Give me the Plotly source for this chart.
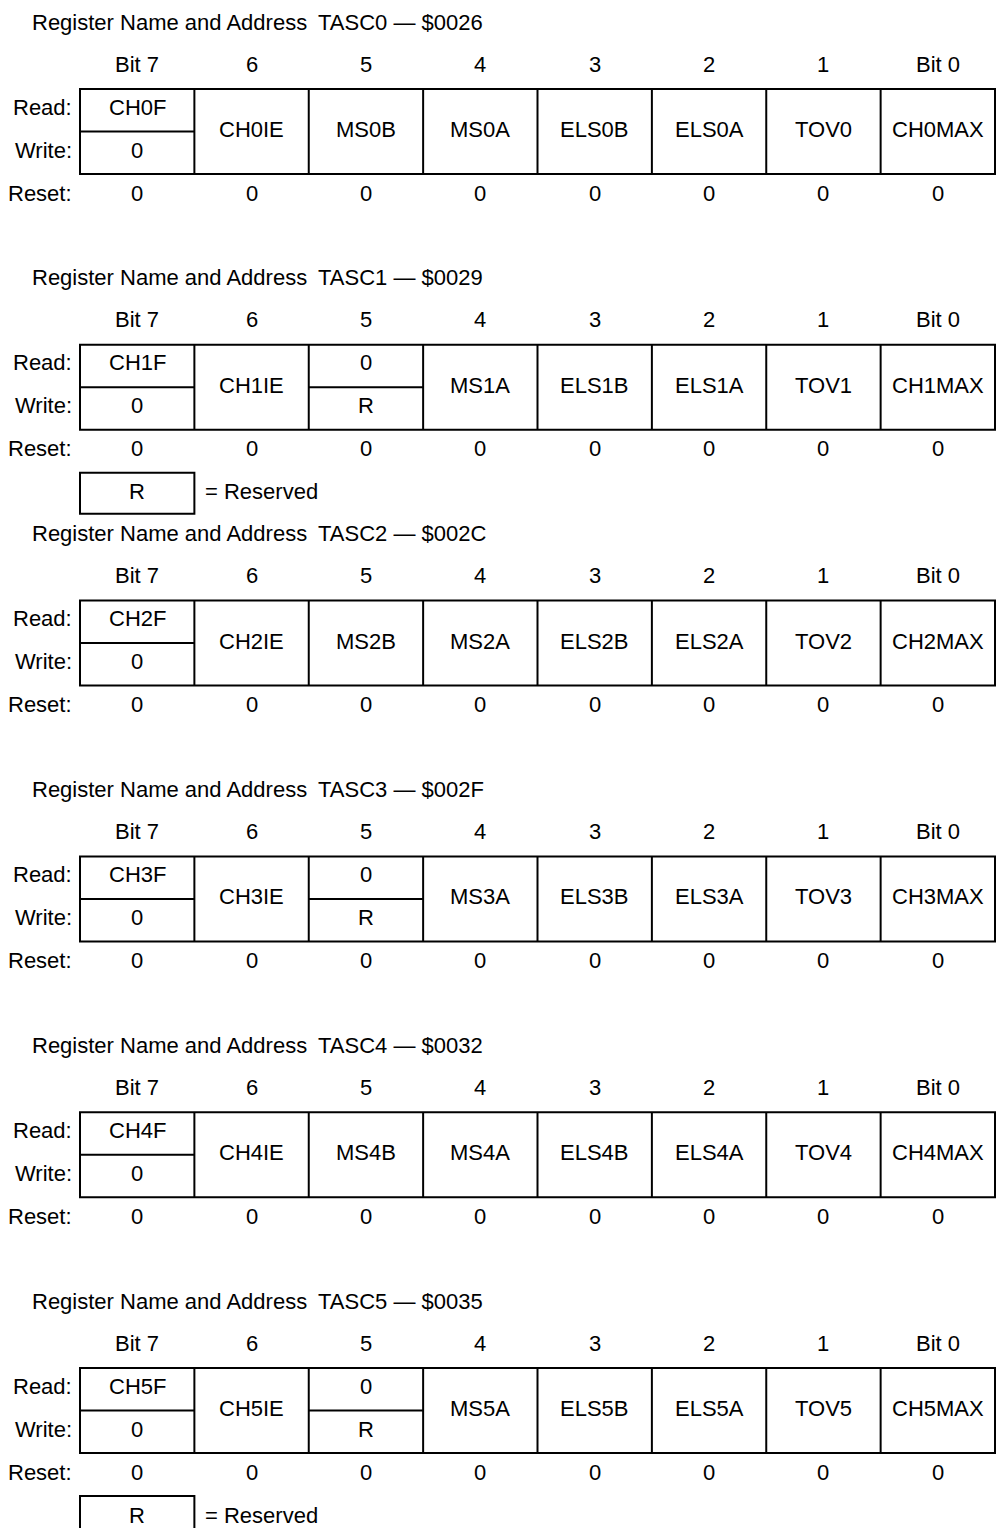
import plotly.graph_objects as go

# ---- data ----
registers = ["TASC0", "TASC1", "TASC2", "TASC3", "TASC4", "TASC5"]
addresses = ["$0026", "$0029", "$002C", "$002F", "$0032", "$0035"]
bit_labels = ["Bit 7", "6", "5", "4", "3", "2", "1", "Bit 0"]

# read-side names; write-side names ("" = one cell for read and write)
read_names = [
    ["CH0F", "CH0IE", "MS0B", "MS0A", "ELS0B", "ELS0A", "TOV0", "CH0MAX"],
    ["CH1F", "CH1IE", "0", "MS1A", "ELS1B", "ELS1A", "TOV1", "CH1MAX"],
    ["CH2F", "CH2IE", "MS2B", "MS2A", "ELS2B", "ELS2A", "TOV2", "CH2MAX"],
    ["CH3F", "CH3IE", "0", "MS3A", "ELS3B", "ELS3A", "TOV3", "CH3MAX"],
    ["CH4F", "CH4IE", "MS4B", "MS4A", "ELS4B", "ELS4A", "TOV4", "CH4MAX"],
    ["CH5F", "CH5IE", "0", "MS5A", "ELS5B", "ELS5A", "TOV5", "CH5MAX"],
]
write_names = [
    ["0", "", "", "", "", "", "", ""],
    ["0", "", "R", "", "", "", "", ""],
    ["0", "", "", "", "", "", "", ""],
    ["0", "", "R", "", "", "", "", ""],
    ["0", "", "", "", "", "", "", ""],
    ["0", "", "R", "", "", "", "", ""],
]
reset_values = [
    [0, 0, 0, 0, 0, 0, 0, 0],
    [0, 0, 0, 0, 0, 0, 0, 0],
    [0, 0, 0, 0, 0, 0, 0, 0],
    [0, 0, 0, 0, 0, 0, 0, 0],
    [0, 0, 0, 0, 0, 0, 0, 0],
    [0, 0, 0, 0, 0, 0, 0, 0],
]
row_labels = ["Read:", "Write:", "Reset:"]
reserved_key = [False, True, False, False, False, True]

# ---- layout ----
W, H = 1004, 1536
PAGE_MARGIN = 8  # default body margin of the html page
FONT = "Liberation Sans, Arial, sans-serif"
FS = 22
FIRST_TOP, PITCH = 89, 255.8
LEFT, RIGHT = 80, 995
COL_W = (RIGHT - LEFT) / 8
TABLE_H = 85
LINE = dict(color="black", width=2)

fig = go.Figure()
shapes = []
annotations = []


def label(x, y, text, anchor="center"):
    annotations.append(dict(x=x, y=y, xref="x", yref="y", text=text,
                            showarrow=False, xanchor=anchor, yanchor="middle",
                            font=dict(family=FONT, size=FS, color="black")))


for i, reg in enumerate(registers):
    top = FIRST_TOP + i * PITCH
    mid, bot = top + TABLE_H / 2, top + TABLE_H
    label(30, top - 67, "Register Name and Address", "left")
    label(316, top - 67, f"{reg} — {addresses[i]}", "left")

    label(74, top + 18, row_labels[0], "right")
    label(74, top + 61, row_labels[1], "right")
    label(74, top + 104, row_labels[2], "right")

    shapes.append(dict(type="rect", x0=LEFT, x1=RIGHT, y0=top, y1=bot, line=LINE))
    for c in range(8):
        x0 = LEFT + c * COL_W
        xc = x0 + COL_W / 2
        label(xc, top - 25, bit_labels[c])
        if c > 0:
            shapes.append(dict(type="line", x0=x0, x1=x0, y0=top, y1=bot, line=LINE))
        w = write_names[i][c]
        if w:
            shapes.append(dict(type="line", x0=x0, x1=x0 + COL_W, y0=mid, y1=mid, line=LINE))
            label(xc, top + 18, read_names[i][c])
            label(xc, top + 61, w)
        else:
            label(xc, mid - 2, read_names[i][c])
        label(xc, top + 104, str(reset_values[i][c]))

    if reserved_key[i]:
        shapes.append(dict(type="rect", x0=LEFT, x1=LEFT + COL_W,
                           y0=top + 128, y1=top + 169, line=LINE))
        label(LEFT + COL_W / 2, top + 147, "R")
        label(203, top + 147, "= Reserved", "left")

# the page adds 8px around the plot; keep it inside the window without scrolling
fig.update_layout(
    width=W - 2 * PAGE_MARGIN, height=H - 2 * PAGE_MARGIN,
    margin=dict(l=0, r=0, t=0, b=0),
    plot_bgcolor="white", paper_bgcolor="white",
    xaxis=dict(range=[PAGE_MARGIN, W - PAGE_MARGIN], visible=False, fixedrange=True),
    yaxis=dict(range=[H - PAGE_MARGIN, PAGE_MARGIN], visible=False, fixedrange=True),
    shapes=shapes, annotations=annotations,
    showlegend=False,
)

fig.write_html("out.html")
